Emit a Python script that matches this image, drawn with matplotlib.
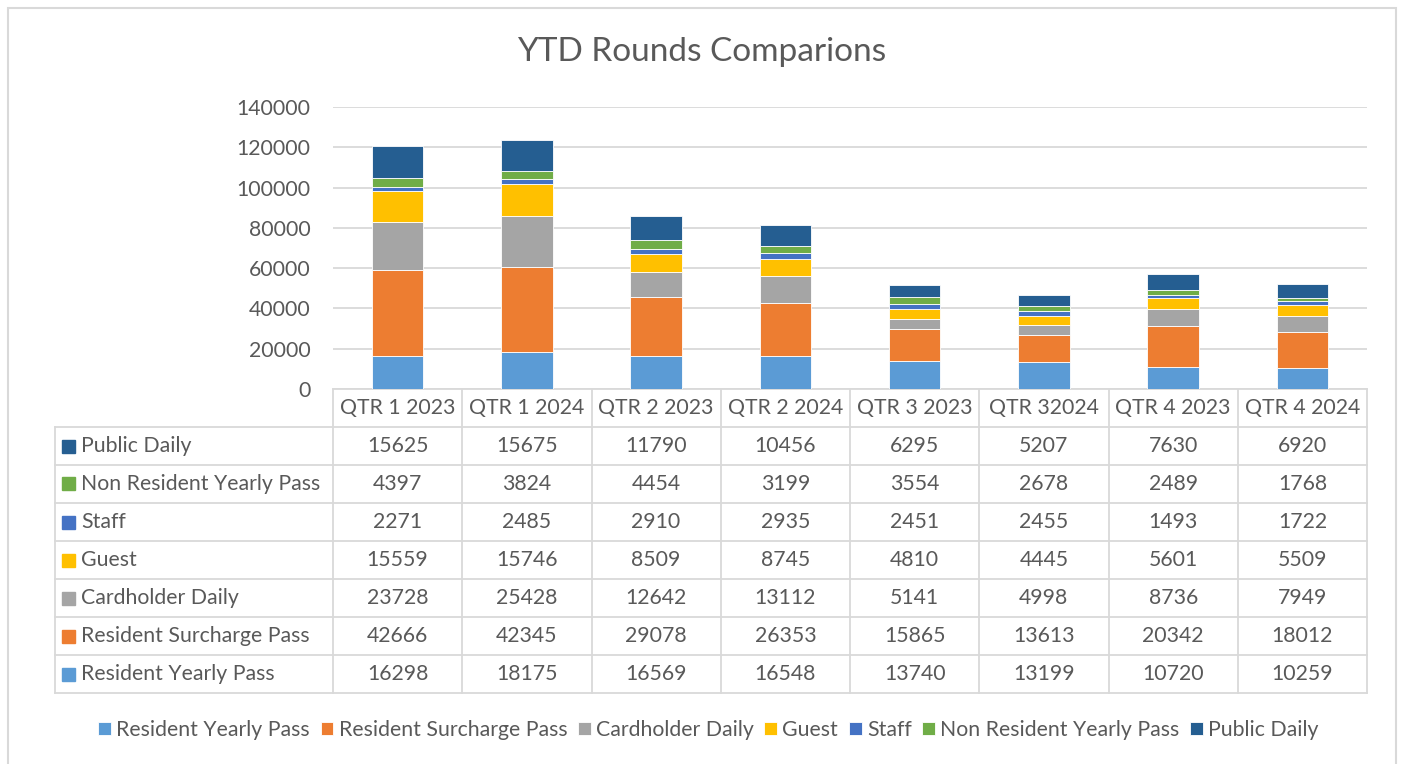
import matplotlib.pyplot as plt
from matplotlib.patches import Rectangle
from matplotlib.transforms import blended_transform_factory
import numpy as np

plt.rcParams['font.family'] = ['Lato', 'DejaVu Sans']

quarters = ['QTR 1 2023', 'QTR 1 2024', 'QTR 2 2023', 'QTR 2 2024',
            'QTR 3 2023', 'QTR 32024', 'QTR 4 2023', 'QTR 4 2024']

resident_yearly = [16298, 18175, 16569, 16548, 13740, 13199, 10720, 10259]
resident_surcharge = [42666, 42345, 29078, 26353, 15865, 13613, 20342, 18012]
cardholder_daily = [23728, 25428, 12642, 13112, 5141, 4998, 8736, 7949]
guest = [15559, 15746, 8509, 8745, 4810, 4445, 5601, 5509]
staff = [2271, 2485, 2910, 2935, 2451, 2455, 1493, 1722]
non_resident_yearly = [4397, 3824, 4454, 3199, 3554, 2678, 2489, 1768]
public_daily = [15625, 15675, 11790, 10456, 6295, 5207, 7630, 6920]

series = [
    ('Resident Yearly Pass', resident_yearly, '#5B9BD5'),
    ('Resident Surcharge Pass', resident_surcharge, '#ED7D31'),
    ('Cardholder Daily', cardholder_daily, '#A5A5A5'),
    ('Guest', guest, '#FFC000'),
    ('Staff', staff, '#4472C4'),
    ('Non Resident Yearly Pass', non_resident_yearly, '#70AD47'),
    ('Public Daily', public_daily, '#255E91'),
]

W, H = 1403, 764
txt = '#595959'
grid = '#d9d9d9'
fs = 15.3

fig = plt.figure(figsize=(W / 100, H / 100), dpi=100)
ax = fig.add_axes([333 / W, 1 - 389 / H, (1367 - 333) / W, (389 - 107) / H])

x = np.arange(len(quarters))
bottom = np.zeros(len(quarters))
for name, vals, col in series:
    ax.bar(x, vals, 0.4, bottom=bottom, color=col, edgecolor='white',
           linewidth=0.6, label=name, zorder=3)
    bottom += np.array(vals)

ax.set_xlim(-0.5, len(quarters) - 0.5)
ax.set_ylim(0, 140000)
ax.set_yticks(range(0, 140001, 20000))
ax.set_xticks([])
ax.grid(axis='y', color=grid, linewidth=1.3, zorder=0)
ax.tick_params(axis='y', length=0, pad=16, labelsize=fs, labelcolor=txt)
for s in ax.spines.values():
    s.set_visible(False)

# data table below the plot
def fy(py):
    return 1 - py / H

tr = blended_transform_factory(ax.transData, fig.transFigure)
row_h = 38
top = 389
lw = 1.3
# header row
ax.plot([-0.5, len(quarters) - 0.5], [fy(top)] * 2, transform=tr, color=grid,
        lw=lw, clip_on=False)
for i, q in enumerate(quarters):
    ax.text(i, fy(top + row_h / 2), q, transform=tr, ha='center', va='center',
            fontsize=fs, color=txt)
rows = series[::-1]
y0 = top + row_h
ybot = y0 + row_h * len(rows)
for k in range(len(rows) + 1):
    yy = fy(y0 + k * row_h)
    fig.add_artist(plt.Line2D([55 / W, 333 / W], [yy, yy], color=grid, lw=lw))
    ax.plot([-0.5, len(quarters) - 0.5], [yy, yy], transform=tr, color=grid,
            lw=lw, clip_on=False)
fig.add_artist(plt.Line2D([55 / W, 55 / W], [fy(y0), fy(ybot)], color=grid, lw=lw))
for i in range(len(quarters) + 1):
    ax.plot([i - 0.5, i - 0.5], [fy(top), fy(ybot)], transform=tr, color=grid,
            lw=lw, clip_on=False)
for k, (name, vals, col) in enumerate(rows):
    yc = fy(y0 + k * row_h + row_h / 2)
    fig.add_artist(Rectangle((62 / W, yc - 6.5 / H), 13 / W, 13 / H,
                             transform=fig.transFigure, color=col))
    fig.text(81 / W, yc, name, ha='left', va='center', fontsize=fs, color=txt)
    for i, v in enumerate(vals):
        ax.text(i, yc, str(v), transform=tr, ha='center', va='center',
                fontsize=fs, color=txt)

fig.text(0.5, fy(52), 'YTD Rounds Comparions', ha='center', va='center',
         fontsize=24, color=txt)

fig.legend(loc='center', bbox_to_anchor=(0.505, fy(730)), ncol=7, frameon=False,
           fontsize=fs, labelcolor=txt, handlelength=0.6, handleheight=0.6,
           handletextpad=0.25, columnspacing=0.5)

fig.add_artist(Rectangle((8 / W, -0.05), (1396 - 8) / W, fy(8) + 0.05,
                         transform=fig.transFigure, fill=False, edgecolor=grid,
                         lw=1.5))

fig.savefig('out.png', dpi=100)
